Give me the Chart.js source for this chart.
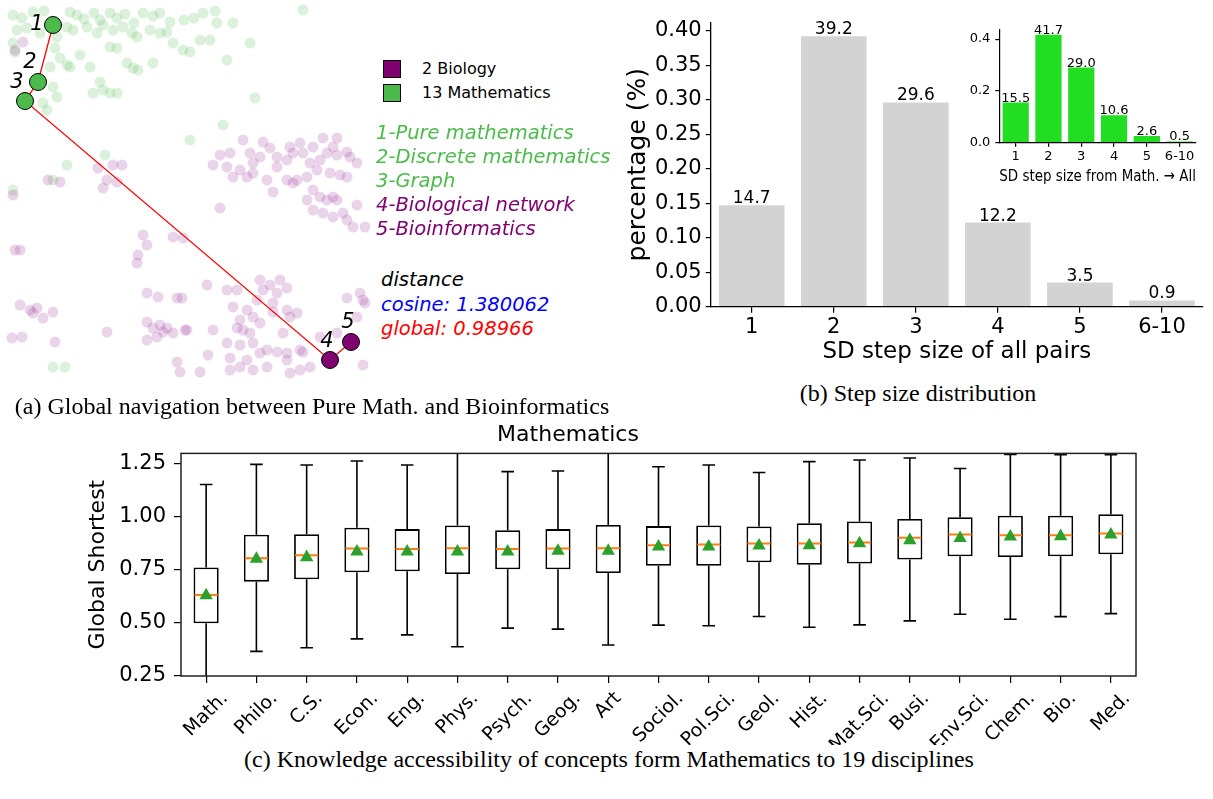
<!DOCTYPE html>
<html>
<head>
<meta charset="utf-8">
<script src="https://cdn.jsdelivr.net/npm/chart.js@4.4.1/dist/chart.umd.min.js"></script>
<style>
  body { margin: 0; background: #fff; width: 1213px; height: 799px; position: relative; overflow: hidden; font-family: "DejaVu Sans"; }
  canvas { position: absolute; }
  .t { position: absolute; white-space: nowrap; line-height: 1; transform: translateY(-50%); }
  .it { font-style: italic; font-size: 19.5px; }
  .cap { position: absolute; white-space: nowrap; line-height: 1; font-family: "Liberation Serif"; font-size: 24px; transform: translate(-50%, -50%); }
  .sq { position: absolute; width: 16px; height: 16px; border: 1px solid #000; }
</style>
</head>
<body>
<canvas id="navChart" width="380" height="380" style="left:0;top:0"></canvas>
<canvas id="stepChart" width="593" height="380" style="left:620px;top:0"></canvas>
<canvas id="insetChart" width="313" height="200" style="left:900px;top:0"></canvas>
<canvas id="boxChart" width="1213" height="330" style="left:0;top:415px"></canvas>

<!-- panel (a) legend + notes -->
<div class="sq" style="left:383px;top:60px;background:#800070"></div>
<div class="sq" style="left:383px;top:84px;background:#4cbb4c"></div>
<div class="t" style="left:422px;top:69px;font-size:16px">2 Biology</div>
<div class="t" style="left:422px;top:93px;font-size:16px">13 Mathematics</div>
<div class="t it" style="left:376px;top:133px;color:#4cbb4c">1-Pure mathematics</div>
<div class="t it" style="left:376px;top:157px;color:#4cbb4c">2-Discrete mathematics</div>
<div class="t it" style="left:376px;top:181px;color:#4cbb4c">3-Graph</div>
<div class="t it" style="left:376px;top:205px;color:#800070">4-Biological network</div>
<div class="t it" style="left:376px;top:229px;color:#800070">5-Bioinformatics</div>
<div class="t it" style="left:381px;top:280px;color:#000">distance</div>
<div class="t it" style="left:381px;top:305px;color:#0000ff">cosine: 1.380062</div>
<div class="t it" style="left:381px;top:329px;color:#ff0000">global: 0.98966</div>

<div class="cap" style="left:312px;top:406px">(a) Global navigation between Pure Math. and Bioinformatics</div>
<div class="cap" style="left:918px;top:393px">(b) Step size distribution</div>
<div class="cap" style="left:609px;top:759px">(c) Knowledge accessibility of concepts form Mathematics to 19 disciplines</div>

<script>
Chart.defaults.font.family = '"DejaVu Sans"';
Chart.defaults.color = '#000';

// ---------- panel (a): concept map (embedding units) ----------
const greenPts = [
  [13,15],[22,18],[33,12],[44,11],[70,12],[77,15],[84,19],[94,13],[100,20],[110,13],[117,18],[125,14],
  [134,23],[143,13],[153,16],[160,13],[170,22],[184,20],[194,18],[203,13],[215,11],[217,23],[233,23],
  [250,43],[303,10],[17,30],[27,28],[40,33],[57,37],[67,27],[73,30],[87,27],[97,33],[103,25],[113,30],
  [123,27],[132,33],[137,37],[150,30],[160,33],[167,32],[173,43],[183,50],[190,52],[200,40],[210,40],
  [227,60],[55,48],[60,58],[70,67],[80,55],[90,67],[110,47],[117,48],[127,63],[133,68],[138,70],[153,63],
  [13,43],[15,52],[50,67],[67,65],[100,82],[93,93],[103,90],[110,93],[117,93],[53,87],[57,97],[43,103],
  [47,110],[255,98],[223,125],[190,140],[105,155],[67,165],[53,180],[13,190],[53,367],[65,367]
];
const purplePts = [
  [243,140],[263,142],[270,148],[290,147],[300,143],[313,147],[323,138],[337,138],[333,147],[347,152],
  [357,163],[220,155],[230,153],[213,165],[227,167],[240,170],[253,163],[250,153],[260,157],[277,157],
  [287,160],[293,153],[303,153],[310,163],[320,160],[327,153],[337,155],[350,157],[233,177],[247,177],
  [253,173],[267,180],[277,167],[287,180],[297,180],[307,177],[317,170],[330,173],[340,175],[347,177],
  [273,192],[293,183],[313,190],[320,197],[327,200],[337,200],[333,197],[313,210],[323,213],[333,217],
  [343,213],[357,205],[347,220],[353,227],[365,227],[220,208],[307,200],
  [98,168],[113,165],[122,165],[107,180],[103,188],[117,182],[48,180],[60,182],[13,195],[23,42],[15,50],
  [143,235],[147,245],[138,255],[137,263],[173,237],[183,238],[20,250],[15,250],
  [20,305],[30,310],[37,308],[43,318],[33,313],[53,312],[22,337],[55,342],[12,338],[107,332],
  [147,293],[158,297],[177,298],[182,298],[207,285],[147,322],[153,328],[160,325],[163,332],[167,328],
  [173,333],[157,337],[147,340],[185,330],[213,330],[208,355],[180,372],[200,372],[177,362],[187,330],
  [227,290],[237,290],[260,280],[270,285],[280,280],[287,288],[263,290],[277,293],[257,300],[273,303],
  [287,310],[297,313],[290,317],[273,312],[247,310],[253,317],[233,307],[240,320],[260,323],[243,330],
  [250,333],[237,328],[227,343],[240,345],[253,343],[267,350],[277,352],[287,353],[260,353],[247,360],
  [240,367],[253,370],[230,358],[267,367],[287,360],[300,350],[303,352],[283,333],[300,370],[310,367],
  [360,293],[363,300],[365,303],[357,317],[347,298],[363,365],[337,333],[320,337],[230,370],[290,373]
];
const pathPts = [[53,25],[38,82],[25,101],[330,360],[351,342]];
const pathNames = ['1', '2', '3', '4', '5'];
const pathDisc = ['math', 'math', 'math', 'bio', 'bio'];
const discColor = { math: '#4cbb4c', bio: '#800070' };
// where each number sits relative to its node (px)
const nameShift = [[-16, 0], [-8, -19], [-8, -18], [-3, -18], [-3, -19]];

const toXY = pts => pts.map(p => ({ x: p[0], y: p[1] }));

const pathNamePlugin = {
  id: 'pathNames',
  afterDatasetsDraw(chart) {
    const ctx = chart.ctx, sx = chart.scales.x, sy = chart.scales.y;
    ctx.save();
    ctx.font = 'italic 21px "DejaVu Sans"';
    ctx.fillStyle = '#000';
    ctx.textAlign = 'center';
    ctx.textBaseline = 'middle';
    pathPts.forEach((p, i) => {
      ctx.fillText(pathNames[i], sx.getPixelForValue(p[0]) + nameShift[i][0], sy.getPixelForValue(p[1]) + nameShift[i][1]);
    });
    ctx.restore();
  }
};

new Chart(document.getElementById('navChart'), {
  type: 'scatter',
  data: {
    datasets: [
      { data: toXY(pathPts), pointRadius: 8.5, backgroundColor: pathDisc.map(d => discColor[d]), borderColor: '#000', borderWidth: 1, order: 0 },
      { data: toXY(pathPts), showLine: true, borderColor: '#ff0000', borderWidth: 1.3, pointRadius: 0, order: 1 },
      { data: toXY(purplePts), pointRadius: 5.5, backgroundColor: 'rgba(128,0,128,0.17)', borderWidth: 0, order: 2 },
      { data: toXY(greenPts), pointRadius: 5.5, backgroundColor: 'rgba(76,187,76,0.2)', borderWidth: 0, order: 3 }
    ]
  },
  options: {
    responsive: false, animation: false,
    layout: { padding: 0, autoPadding: false },
    plugins: { legend: { display: false }, tooltip: { enabled: false } },
    scales: {
      x: { display: false, min: 0, max: 380 },
      y: { display: false, min: 0, max: 380, reverse: true }
    }
  },
  plugins: [pathNamePlugin]
});

// ---------- panel (b): step size distribution ----------
const stepLabels = ['1', '2', '3', '4', '5', '6-10'];
const allPairs = [0.147, 0.392, 0.296, 0.122, 0.035, 0.009];
const allPairsText = ['14.7', '39.2', '29.6', '12.2', '3.5', '0.9'];
const mathPairs = [0.155, 0.417, 0.290, 0.106, 0.026, 0.005];
const mathPairsText = ['15.5', '41.7', '29.0', '10.6', '2.6', '0.5'];

const barTextPlugin = {
  id: 'barText',
  afterDatasetsDraw(chart, args, opts) {
    const ctx = chart.ctx;
    ctx.save();
    ctx.font = opts.font;
    ctx.fillStyle = '#000';
    ctx.textAlign = 'center';
    ctx.textBaseline = 'alphabetic';
    chart.getDatasetMeta(0).data.forEach((bar, i) => ctx.fillText(opts.texts[i], bar.x, bar.y - opts.gap));
    ctx.restore();
  }
};

const tickGrid = len => ({ display: true, offset: false, drawOnChartArea: false, drawTicks: true, tickLength: len, color: '#000', lineWidth: 1.2 });

new Chart(document.getElementById('stepChart'), {
  type: 'bar',
  data: { labels: stepLabels, datasets: [{ data: allPairs, backgroundColor: '#d3d3d3', barPercentage: 0.8, categoryPercentage: 1 }] },
  options: {
    responsive: false, animation: false,
    layout: { padding: { top: 22.7, right: 10, left: 0, bottom: 0 } },
    plugins: { legend: { display: false }, tooltip: { enabled: false }, barText: { texts: allPairsText, font: '17px "DejaVu Sans"', gap: 2 } },
    scales: {
      x: {
        grid: tickGrid(6), border: { color: '#000', width: 1.3 },
        ticks: { font: { size: 21 }, padding: 2, maxRotation: 0, autoSkip: false },
        title: { display: true, text: 'SD step size of all pairs', font: { size: 23 }, padding: { top: 0, bottom: 14.5 } },
        afterFit: s => { s.height = 73.3; }
      },
      y: {
        min: 0, max: 0.4116,
        grid: tickGrid(5), border: { color: '#000', width: 1.3 },
        ticks: { stepSize: 0.05, includeBounds: false, font: { size: 21 }, padding: 4, callback: v => v.toFixed(2) },
        title: { display: true, text: 'percentage (%)', font: { size: 25 }, padding: { top: 3, bottom: 0 } },
        afterFit: s => { s.width = 90.7; }
      }
    }
  },
  plugins: [barTextPlugin]
});

new Chart(document.getElementById('insetChart'), {
  type: 'bar',
  data: { labels: stepLabels, datasets: [{ data: mathPairs, backgroundColor: '#22dd22', barPercentage: 0.8, categoryPercentage: 1 }] },
  options: {
    responsive: false, animation: false,
    layout: { padding: { top: 29.3, right: 17, left: 0, bottom: 0 } },
    plugins: { legend: { display: false }, tooltip: { enabled: false }, barText: { texts: mathPairsText, font: '13px "DejaVu Sans"', gap: 1 } },
    scales: {
      x: {
        grid: tickGrid(4), border: { color: '#000', width: 1.2 },
        ticks: { font: { size: 13 }, padding: 2, maxRotation: 0, autoSkip: false },
        title: { display: true, text: 'SD step size from Math. \u2192 All', font: { size: 16 }, padding: { top: 0, bottom: 13.4 } },
        afterFit: s => { s.height = 57.3; }
      },
      y: {
        min: 0, max: 0.4379,
        grid: tickGrid(4), border: { color: '#000', width: 1.2 },
        ticks: { stepSize: 0.2, includeBounds: false, font: { size: 13 }, padding: 5, callback: v => v.toFixed(1) },
        afterFit: s => { s.width = 99.3; }
      }
    }
  },
  plugins: [barTextPlugin]
});

// ---------- panel (c): global shortest distance per discipline ----------
const disciplines = ['Math.', 'Philo.', 'C.S.', 'Econ.', 'Eng.', 'Phys.', 'Psych.', 'Geog.', 'Art', 'Sociol.',
  'Pol.Sci.', 'Geol.', 'Hist.', 'Mat.Sci.', 'Busi.', 'Env.Sci.', 'Chem.', 'Bio.', 'Med.'];
const whiskerLow = [0.20, 0.366, 0.383, 0.425, 0.444, 0.388, 0.476, 0.471, 0.396, 0.490, 0.487, 0.531, 0.480, 0.491, 0.510, 0.541, 0.518, 0.530, 0.544];
const q1 = [0.499, 0.695, 0.706, 0.739, 0.744, 0.731, 0.753, 0.753, 0.736, 0.770, 0.770, 0.786, 0.775, 0.781, 0.799, 0.815, 0.811, 0.815, 0.824];
const median = [0.632, 0.806, 0.820, 0.852, 0.849, 0.853, 0.849, 0.852, 0.853, 0.867, 0.870, 0.875, 0.875, 0.880, 0.902, 0.918, 0.914, 0.914, 0.922];
const q3 = [0.762, 0.916, 0.919, 0.949, 0.943, 0.960, 0.938, 0.943, 0.962, 0.957, 0.960, 0.955, 0.971, 0.979, 0.991, 0.999, 1.006, 1.006, 1.013];
const whiskerHigh = [1.153, 1.248, 1.245, 1.264, 1.245, 1.34, 1.214, 1.217, 1.33, 1.237, 1.245, 1.210, 1.261, 1.269, 1.278, 1.229, 1.295, 1.294, 1.294];
const means = [0.630, 0.802, 0.810, 0.836, 0.836, 0.836, 0.836, 0.840, 0.840, 0.860, 0.860, 0.865, 0.866, 0.875, 0.890, 0.900, 0.907, 0.909, 0.917];

const boxPlugin = {
  id: 'boxWhiskers',
  afterDatasetDraw(chart, args) {
    if (args.index !== 0) return;
    const { ctx, chartArea: a } = chart;
    const y = chart.scales.y;
    const seg = (x1, y1, x2, y2) => { ctx.beginPath(); ctx.moveTo(x1, y1); ctx.lineTo(x2, y2); ctx.stroke(); };
    ctx.save();
    ctx.beginPath(); ctx.rect(a.left, a.top, a.width, a.height); ctx.clip();
    args.meta.data.forEach((bar, i) => {
      const x = bar.x, half = bar.width / 2, cap = bar.width / 4;
      const lo = y.getPixelForValue(whiskerLow[i]), hi = y.getPixelForValue(whiskerHigh[i]);
      ctx.strokeStyle = '#000'; ctx.lineWidth = 1.6;
      seg(x, y.getPixelForValue(q1[i]), x, lo); seg(x - cap, lo, x + cap, lo);
      seg(x, y.getPixelForValue(q3[i]), x, hi); seg(x - cap, hi, x + cap, hi);
      ctx.strokeStyle = '#ff7f0e'; ctx.lineWidth = 2;
      const m = y.getPixelForValue(median[i]);
      seg(x - half + 1, m, x + half - 1, m);
    });
    ctx.restore();
  },
  afterDraw(chart) {
    const { ctx, chartArea: a } = chart;
    const xs = chart.scales.x;
    ctx.save();
    ctx.strokeStyle = '#222'; ctx.lineWidth = 1.5;
    ctx.strokeRect(a.left, a.top, a.width, a.height);
    // rotated category names, centred under each tick like matplotlib
    const size = 19;
    ctx.font = size + 'px "DejaVu Sans"';
    ctx.fillStyle = '#000';
    ctx.textAlign = 'center';
    ctx.textBaseline = 'middle';
    disciplines.forEach((name, i) => {
      const x = xs.getPixelForTick(i);
      const w = ctx.measureText(name).width;
      const half = (w + size * 1.1) * Math.SQRT1_2 / 2;
      ctx.save();
      ctx.translate(x, a.bottom + 12 + half);
      ctx.rotate(-Math.PI / 4);
      ctx.fillText(name, 0, 0);
      ctx.restore();
    });
    ctx.restore();
  }
};

new Chart(document.getElementById('boxChart'), {
  type: 'bar',
  data: {
    labels: disciplines,
    datasets: [
      { type: 'bar', data: disciplines.map((_, i) => [q1[i], q3[i]]), backgroundColor: '#fff', borderColor: '#000', borderWidth: 1.8, borderSkipped: false, barPercentage: 0.5, categoryPercentage: 1, order: 2 },
      { type: 'line', data: means, showLine: false, pointStyle: 'triangle', pointRadius: 7.7, pointBackgroundColor: '#2ca02c', pointBorderColor: '#2ca02c', pointBorderWidth: 0, order: 1 }
    ]
  },
  options: {
    responsive: false, animation: false,
    layout: { padding: { top: 0, right: 77, left: 0, bottom: 0 } },
    plugins: {
      legend: { display: false }, tooltip: { enabled: false },
      title: { display: true, text: 'Mathematics', font: { size: 22, weight: 'normal' }, color: '#000', padding: { top: 7, bottom: 5 } }
    },
    scales: {
      x: {
        grid: tickGrid(7), border: { display: false },
        ticks: { display: false },
        afterFit: s => { s.height = 69; }
      },
      y: {
        min: 0.25, max: 1.30,
        grid: tickGrid(7), border: { display: false },
        ticks: { stepSize: 0.25, includeBounds: false, font: { size: 21 }, padding: 8, callback: v => v.toFixed(2) },
        title: { display: true, text: 'Global Shortest', font: { size: 22 }, padding: { top: 85, bottom: 0 } },
        afterFit: s => { s.width = 181; }
      }
    }
  },
  plugins: [boxPlugin]
});
</script>
</body>
</html>
